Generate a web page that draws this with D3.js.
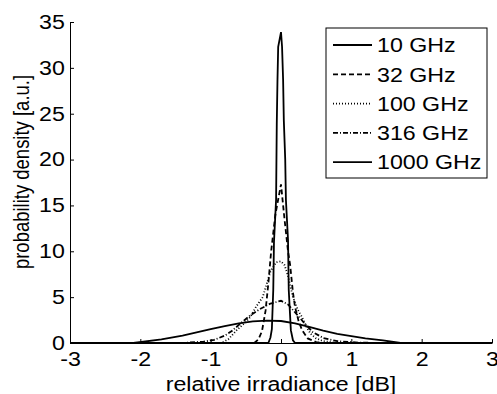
<!DOCTYPE html>
<html>
<head>
<meta charset="utf-8">
<script src="https://cdn.jsdelivr.net/npm/d3@7"></script>
<style>
  body { margin: 0; background: #fff; }
  svg { display: block; }
  svg text { font-family: "Liberation Sans", Arial, sans-serif; }
</style>
</head>
<body>
<div id="chart"></div>
<script>
// tick labels
const xTicks = [-3, -2, -1, 0, 1, 2, 3];
const yTicks = [0, 5, 10, 15, 20, 25, 30, 35];

// series labels, in legend order
const seriesNames = ['10 GHz', '32 GHz', '100 GHz', '316 GHz', '1000 GHz'];

// [relative irradiance dB, probability density]
const ghz10 = [[-3, 0], [-0.18, 0], [-0.15, 0.6], [-0.13, 1.5], [-0.11, 5.8], [-0.1, 11], [-0.07, 15.6],
  [-0.06, 24], [-0.05, 28.7], [-0.04, 32.3], [0, 33.9], [0.015, 32.3], [0.03, 28.7], [0.04, 24.3],
  [0.06, 20], [0.07, 15.6], [0.1, 11.2], [0.11, 5.8], [0.14, 1.4], [0.17, 0.3], [0.2, 0], [3, 0]];
const ghz32 = [[-3, 0], [-0.38, 0], [-0.32, 0.4], [-0.27, 1.3], [-0.22, 3.5], [-0.18, 6.5], [-0.14, 10],
  [-0.08, 14], [0, 17.3], [0.05, 13.5], [0.1, 10], [0.13, 8.5], [0.17, 5.5], [0.2, 3.9], [0.25, 2.4],
  [0.3, 1.4], [0.38, 0.5], [0.5, 0.1], [0.6, 0], [3, 0]];
const ghz100 = [[-3, 0], [-0.85, 0], [-0.75, 0.4], [-0.63, 1.4], [-0.5, 2.3], [-0.44, 2.8], [-0.35, 4.0],
  [-0.26, 5.0], [-0.15, 7.8], [-0.07, 8.8], [0, 8.9], [0.05, 8.5], [0.1, 7.3], [0.17, 5.0], [0.24, 3.6],
  [0.3, 2.8], [0.36, 1.8], [0.42, 1.0], [0.5, 0.5], [0.6, 0.2], [0.8, 0], [3, 0]];
const ghz316 = [[-3, 0], [-1.4, 0], [-1.1, 0.15], [-0.95, 0.35], [-0.8, 0.8], [-0.7, 1.3], [-0.58, 2.1],
  [-0.44, 3.0], [-0.3, 3.7], [-0.15, 4.3], [0, 4.6], [0.1, 4.2], [0.17, 3.6], [0.25, 2.9], [0.34, 2.1],
  [0.45, 1.2], [0.6, 0.55], [0.8, 0.2], [1.1, 0.05], [1.4, 0], [3, 0]];
const ghz1000 = [[-3, 0], [-2.1, 0], [-1.7, 0.4], [-1.4, 0.8], [-1.2, 1.15], [-1.0, 1.5], [-0.8, 1.85],
  [-0.6, 2.15], [-0.4, 2.35], [-0.2, 2.45], [0, 2.4], [0.2, 2.15], [0.4, 1.75], [0.6, 1.35],
  [0.8, 1.0], [1.0, 0.75], [1.2, 0.5], [1.45, 0.28], [1.7, 0], [3, 0]];

const seriesValues = [ghz10, ghz32, ghz100, ghz316, ghz1000];
const dashes = [null, '5,3', '1,2', '5,2,1,2', null];

const width = 497;
const height = 394;
const margin = { top: 22, right: 5, bottom: 51, left: 70 };
const fontSize = 20;
const stretch = 1.16; // the source picture is a bit wider than tall

const svg = d3.select('#chart')
  .append('svg')
  .attr('width', width)
  .attr('height', height);

const x = d3.scaleLinear()
  .domain([-3, 3])
  .range([margin.left, width - margin.right]);

const y = d3.scaleLinear()
  .domain([0, 35])
  .range([height - margin.bottom, margin.top]);

const styleAxis = g => {
  g.attr('font-family', null).attr('font-size', fontSize);
  g.selectAll('text').attr('fill', '#000').attr('transform', `scale(${stretch},1)`);
  g.selectAll('line, path').attr('stroke', '#000');
};

// axes, ticks pointing inward like matlab, plain hyphen minus
svg.append('g')
  .attr('transform', `translate(0,${height - margin.bottom})`)
  .call(d3.axisBottom(x).tickValues(xTicks).tickFormat(d => String(d))
    .tickSize(-4).tickPadding(9).tickSizeOuter(0))
  .call(styleAxis);

svg.append('g')
  .attr('transform', `translate(${margin.left},0)`)
  .call(d3.axisLeft(y).tickValues(yTicks).tickFormat(d => String(d))
    .tickSize(-4).tickPadding(4.5).tickSizeOuter(0))
  .call(styleAxis);

const line = d3.line()
  .x(d => x(d[0]))
  .y(d => y(d[1]));

svg.append('g')
  .selectAll('path')
  .data(seriesValues)
  .enter()
  .append('path')
  .attr('d', line)
  .attr('fill', 'none')
  .attr('stroke', '#000')
  .attr('stroke-width', 1.8)
  .attr('stroke-dasharray', (d, i) => dashes[i]);

// axis labels
svg.append('text')
  .attr('transform', `translate(${x(0)},391) scale(${stretch},1)`)
  .attr('text-anchor', 'middle')
  .attr('font-size', fontSize)
  .text('relative irradiance [dB]');

svg.append('text')
  .attr('transform', `translate(29,172) rotate(-90) scale(1,${stretch})`)
  .attr('text-anchor', 'middle')
  .attr('font-size', 18.5)
  .text('probability density [a.u.]');

// legend
const legend = svg.append('g')
  .attr('transform', 'translate(326,28)');

legend.append('rect')
  .attr('width', 161)
  .attr('height', 150)
  .attr('fill', '#fff')
  .attr('stroke', '#000')
  .attr('stroke-width', 1);

const items = legend.selectAll('g.item')
  .data(seriesNames)
  .enter()
  .append('g')
  .attr('class', 'item')
  .attr('transform', (d, i) => `translate(0,${17 + i * 29.3})`);

items.append('line')
  .attr('x1', 7)
  .attr('x2', 46)
  .attr('stroke', '#000')
  .attr('stroke-width', 1.8)
  .attr('stroke-dasharray', (d, i) => dashes[i]);

items.append('text')
  .attr('transform', `translate(51,0) scale(${stretch},1)`)
  .attr('dy', '0.36em')
  .attr('font-size', fontSize)
  .text(d => d);
</script>
</body>
</html>
